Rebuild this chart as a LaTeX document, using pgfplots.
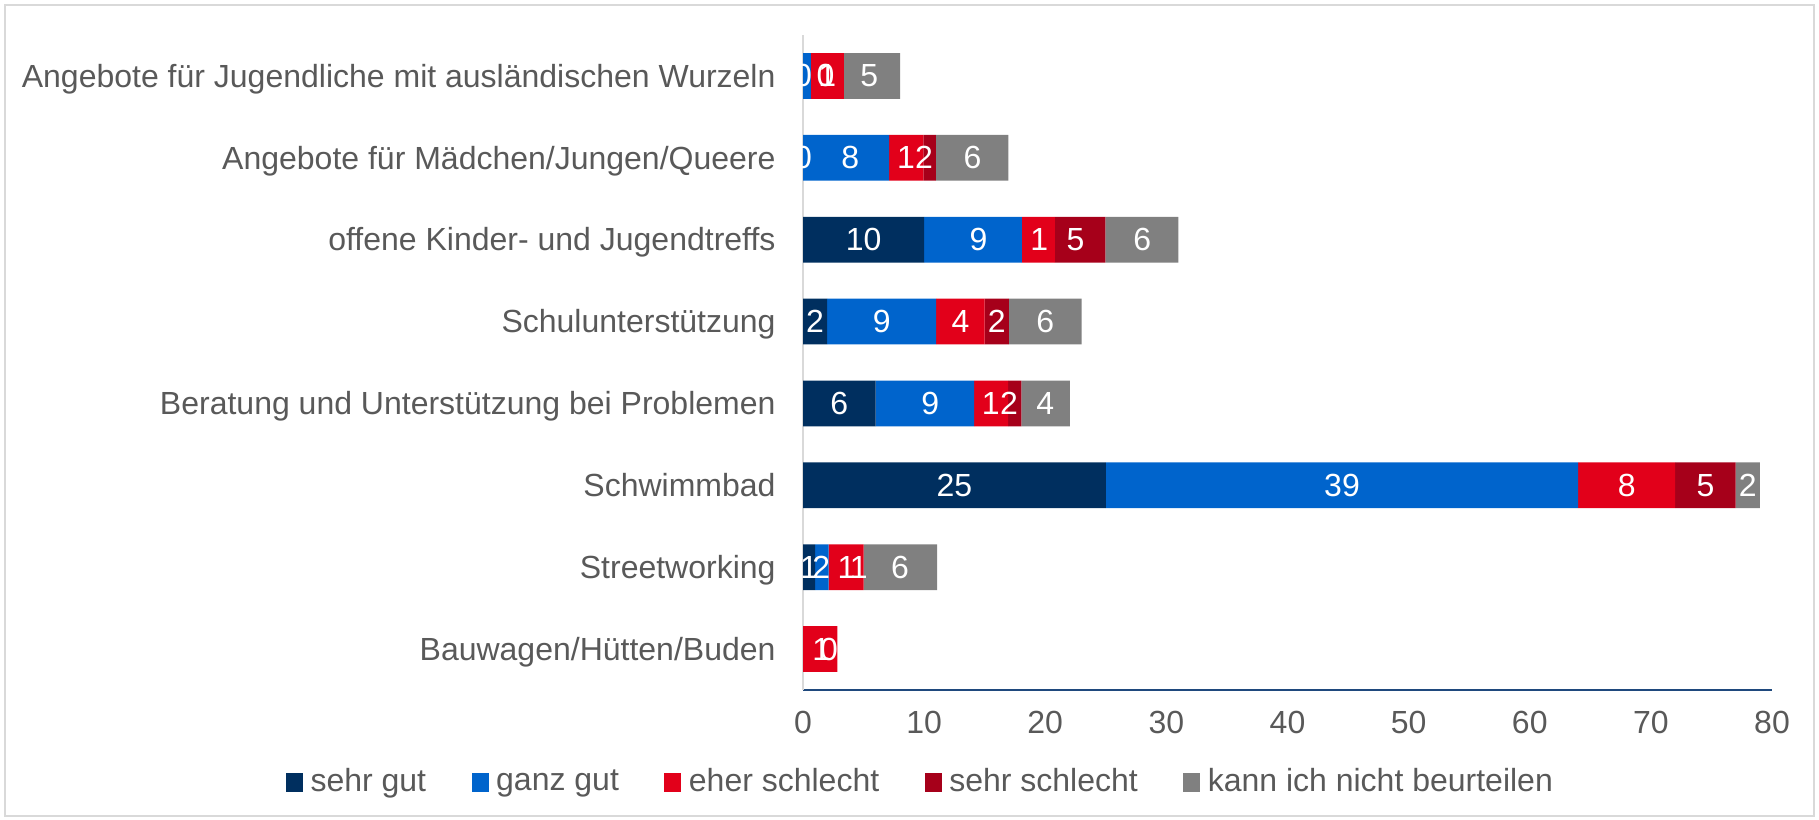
\documentclass[border=0pt]{standalone}
\usepackage{pgfplots}
\usepackage{pgfplotstable}
\pgfplotsset{compat=1.18}
\usepackage{fontspec}
\setmainfont{Liberation Sans}
\definecolor{sgut}{HTML}{002F5F}
\definecolor{ggut}{HTML}{0064CC}
\definecolor{eschl}{HTML}{E2001A}
\definecolor{sschl}{HTML}{A6001A}
\definecolor{kann}{HTML}{808080}
\definecolor{txt}{HTML}{595959}
\definecolor{axisblue}{HTML}{1F497D}
\definecolor{framec}{HTML}{D9D9D9}
\newcommand{\fs}{\fontsize{12.8}{15}\selectfont}

% visible bar segments (y = category index, 7 = top)
\pgfplotstableread{
y  sg    gg    es    ss    kn
7  0     0.66  2.72  0     4.63
6  0     7.10  2.84  1.04  5.97
5  10    8.07  2.73  4.17  6.03
4  2     9     4     2     6
3  6     8.13  2.80  1.10  4
2  25    39    8     5     2
1  1     1.12  2.89  0     6.06
0  0     0     2.84  0     0
}\bars

% data labels: position and text
\pgfplotstableread{
x     y  label
0     7  0
1.85  7  0
2.0   7  1
5.47  7  5
0     6  0
3.9   6  8
8.5   6  1
10    6  2
14    6  6
5     5  10
14.5  5  9
19.5  5  1
22.5  5  5
28    5  6
1     4  2
6.5   4  9
13    4  4
16    4  2
20    4  6
3     3  6
10.5  3  9
15.5  3  1
17    3  2
20    3  4
12.5  2  25
44.5  2  39
68    2  8
74.5  2  5
78    2  2
0.5   1  1
1.5   1  2
3.6   1  1
4.6   1  1
8     1  6
1.5   0  1
2.15  0  0
}\labels

\begin{document}
\begin{tikzpicture}
\path[use as bounding box] (0,0) rectangle (727.6pt,327.6pt);
\draw[framec, line width=0.8pt] (2pt,1.2pt) rectangle (725.6pt,325.6pt);
\begin{axis}[
  at={(321.2pt,51.6pt)}, anchor=south west,
  scale only axis, width=387.6pt, height=262pt,
  xbar stacked, bar width=18.3pt,
  xmin=0, xmax=80, ymin=-0.5, ymax=7.5,
  xtick={0,10,...,80}, ytick={0,...,7},
  yticklabels={Bauwagen/Hütten/Buden, Streetworking, Schwimmbad, Beratung und Unterstützung bei Problemen, Schulunterstützung, offene Kinder- und Jugendtreffs, Angebote für Mädchen/Jungen/Queere, Angebote für Jugendliche mit ausländischen Wurzeln},
  axis lines=left,
  x axis line style={draw=axisblue, line width=1pt, -},
  y axis line style={draw=framec, line width=0.8pt, -},
  major tick length=0pt, tick style={draw=none},
  tick label style={font=\fs, text=txt},
  xticklabel style={anchor=north, inner sep=0pt, yshift=-8.4pt},
  yticklabel style={anchor=base east, inner sep=0pt, xshift=-10.8pt, yshift=-4.5pt},
  /pgf/number format/assume math mode=true,
  legend columns=5,
  legend style={at={(-0.534,-0.1405)}, anchor=west, draw=none, fill=none, inner sep=0pt, font=\fs, text=txt,
    nodes={inner sep=0pt},
    /tikz/every even column/.append style={column sep=18.2pt},
    /tikz/every odd column/.append style={column sep=3pt}},
  legend image code/.code={\fill[#1] (0pt,-3.8pt) rectangle (6.8pt,3.8pt);},
]
\addplot[fill=sgut, draw=none] table[x=sg, y=y] {\bars};
\addplot[fill=ggut, draw=none] table[x=gg, y=y] {\bars};
\addplot[fill=eschl, draw=none] table[x=es, y=y] {\bars};
\addplot[fill=sschl, draw=none] table[x=ss, y=y] {\bars};
\addplot[fill=kann, draw=none] table[x=kn, y=y] {\bars};
\legend{sehr gut, ganz gut, eher schlecht, sehr schlecht, kann ich nicht beurteilen}
\end{axis}
\begin{axis}[
  at={(321.2pt,51.6pt)}, anchor=south west,
  scale only axis, width=387.6pt, height=262pt,
  xmin=0, xmax=80, ymin=-0.5, ymax=7.5,
  hide axis, clip=false,
]
\addplot[draw=none, mark=none, nodes near coords, point meta=explicit symbolic,
  nodes near coords align={center},
  every node near coord/.append style={font=\fs, text=white, inner sep=0pt}]
  table[x=x, y=y, meta=label] {\labels};
\end{axis}
\end{tikzpicture}
\end{document}
